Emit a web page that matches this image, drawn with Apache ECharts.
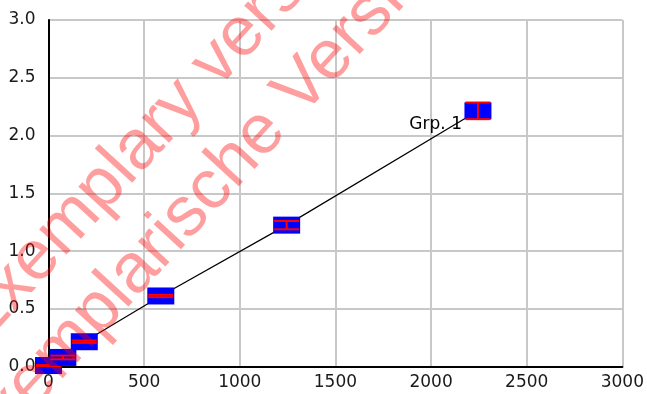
<!DOCTYPE html>
<html>
<head>
<meta charset="utf-8">
<script src="https://cdn.jsdelivr.net/npm/echarts@6/dist/echarts.min.js"></script>
<style>html,body{margin:0;padding:0;background:#fff;}#chart{width:647px;height:394px;}</style>
</head>
<body>
<div id="chart"></div>
<script>
// Data
const xValues = [0, 75, 187, 587, 1245, 2245];
const yValues = [0.01, 0.08, 0.216, 0.612, 1.225, 2.214];
const yErrors = [0.004, 0.016, 0.01, 0.01, 0.036, 0.072];
const seriesName = 'Grp. 1';
const xTicks = [0, 500, 1000, 1500, 2000, 2500, 3000];
const yTicks = ['0.0', '0.5', '1.0', '1.5', '2.0', '2.5', '3.0'];
const watermarks = ['Exemplary version', 'Exemplarische Version'];

const chart = echarts.init(document.getElementById('chart'), null, {renderer: 'canvas'});

const boxData = xValues.map((x, i) => [x, yValues[i], yValues[i] - yErrors[i], yValues[i] + yErrors[i]]);
const lineData = xValues.map((x, i) => [x, yValues[i]]);
const lastIndex = xValues.length - 1;

const ang = 47.5 * Math.PI / 180;
const wmStyle = {fill: 'rgba(255,0,0,0.38)', font: '70px "Liberation Sans", Arial, sans-serif', textAlign: 'left', textVerticalAlign: 'bottom'};

chart.setOption({
  animation: false,
  backgroundColor: '#fff',
  grid: {left: 48.5, right: 21, top: 20, bottom: 27.3, containLabel: false},
  xAxis: {
    type: 'value', min: 0, max: 3000, interval: 500,
    axisLine: {show: true, onZero: false, lineStyle: {color: '#000', width: 2}},
    axisTick: {show: false},
    splitLine: {show: true, lineStyle: {color: '#c8c8c8', width: 2}},
    axisLabel: {color: '#1a1a1a', fontFamily: 'DejaVu Sans', fontSize: 17, margin: 7,
      formatter: v => xTicks.indexOf(v) >= 0 ? String(v) : ''}
  },
  yAxis: {
    type: 'value', min: 0, max: 3, interval: 0.5,
    axisLine: {show: true, onZero: false, lineStyle: {color: '#000', width: 2}},
    axisTick: {show: false},
    splitLine: {show: true, lineStyle: {color: '#c8c8c8', width: 2}},
    axisLabel: {color: '#1a1a1a', fontFamily: 'DejaVu Sans', fontSize: 17, margin: 13, padding: [4, 0, 0, 0],
      formatter: v => yTicks[Math.round(v * 2)]}
  },
  series: [
    {
      type: 'line', name: seriesName, data: lineData, symbol: 'none', z: 2,
      lineStyle: {color: '#000', width: 1.2}
    },
    {
      type: 'custom', name: seriesName, data: boxData, z: 3,
      renderItem: function (params, api) {
        const c = api.coord([api.value(0), api.value(1)]);
        const lo = api.coord([api.value(0), api.value(2)]);
        const hi = api.coord([api.value(0), api.value(3)]);
        const w = 27, h = 17, cw = 12.5;
        const children = [
          {type: 'rect', shape: {x: c[0] - w / 2, y: c[1] - h / 2, width: w, height: h}, style: {fill: '#0000ff'}},
          {type: 'line', shape: {x1: c[0] - cw, y1: hi[1], x2: c[0] + cw, y2: hi[1]}, style: {stroke: '#ff0000', lineWidth: 2}},
          {type: 'line', shape: {x1: c[0] - cw, y1: lo[1], x2: c[0] + cw, y2: lo[1]}, style: {stroke: '#ff0000', lineWidth: 2}},
          {type: 'line', shape: {x1: c[0], y1: hi[1], x2: c[0], y2: lo[1]}, style: {stroke: '#ff0000', lineWidth: 2}}
        ];
        if (params.dataIndex === lastIndex) {
          children.push({type: 'text', x: c[0] - 16, y: c[1] + 14,
            style: {text: seriesName, textAlign: 'right', textVerticalAlign: 'middle',
              font: '17px "DejaVu Sans"', fill: '#000'}});
        }
        return {type: 'group', children: children};
      }
    }
  ],
  graphic: [
    {type: 'text', x: -6.7, y: 357.6, rotation: ang, z: 100, silent: true, style: Object.assign({text: watermarks[0]}, wmStyle)},
    {type: 'text', x: -10.4, y: 481.3, rotation: ang, z: 100, silent: true, style: Object.assign({text: watermarks[1]}, wmStyle)}
  ]
});
</script>
</body>
</html>
